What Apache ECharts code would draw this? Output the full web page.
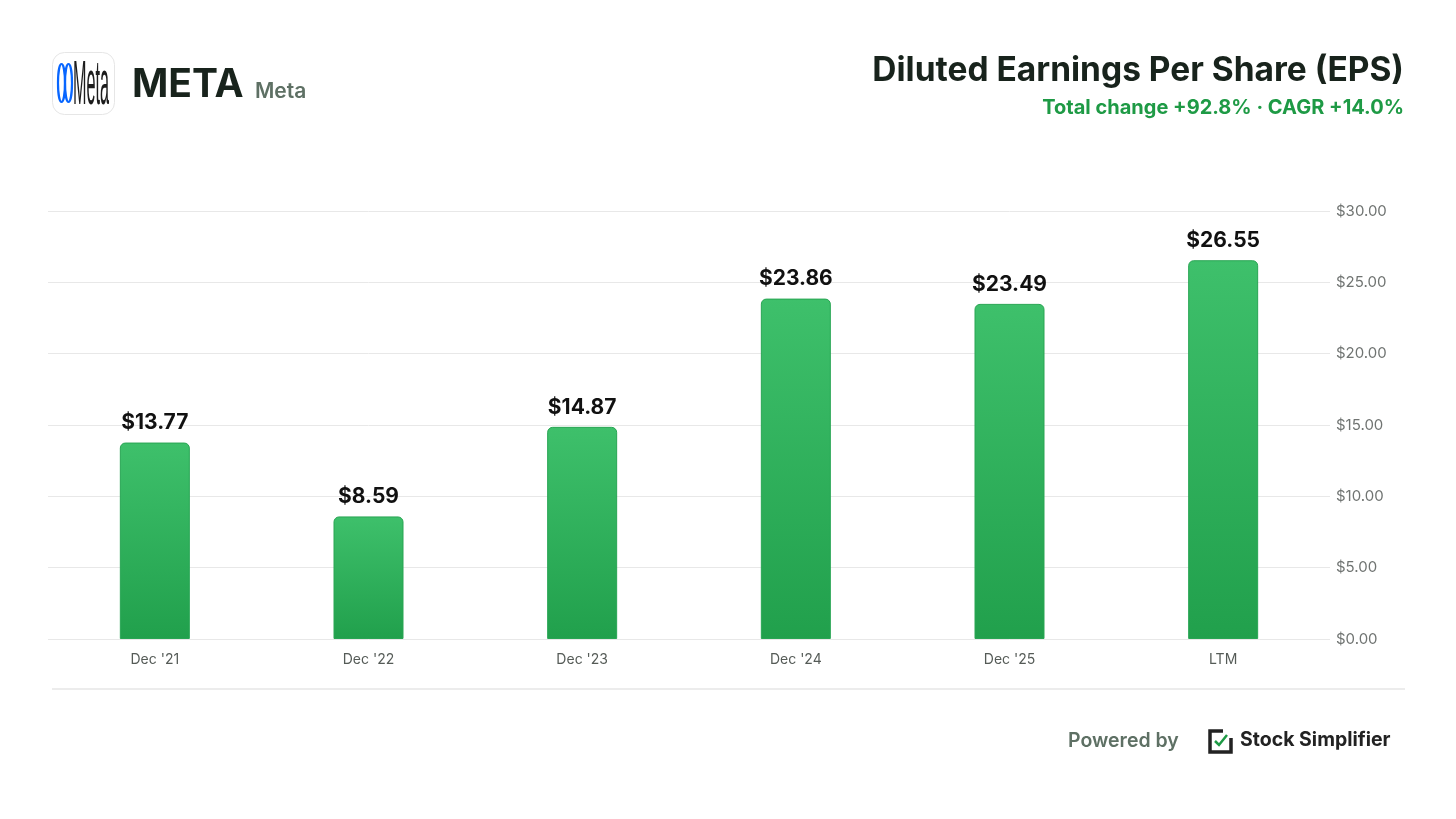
<!DOCTYPE html>
<html>
<head>
<meta charset="utf-8">
<title>META Diluted EPS</title>
<script src="https://cdn.jsdelivr.net/npm/echarts@6/dist/echarts.min.js"></script>
<style>
  html, body { margin: 0; padding: 0; background: #ffffff; }
  #chart { width: 1456px; height: 819px; }
</style>
</head>
<body>
<div id="chart"></div>
<script>
// data
var periods = ["Dec '21", "Dec '22", "Dec '23", "Dec '24", "Dec '25", "LTM"];
var epsValues = [13.77, 8.59, 14.87, 23.86, 23.49, 26.55];
var yTicks = [0, 5, 10, 15, 20, 25, 30];

var ticker = 'META';
var companyName = 'Meta';
var chartTitle = 'Diluted Earnings Per Share (EPS)';
var chartSubtitle = 'Total change +92.8% \u00b7 CAGR +14.0%';

var font = 'Inter, "Noto Sans", sans-serif';

var chart = echarts.init(document.getElementById('chart'), null, { renderer: 'canvas' });

var option = {
    backgroundColor: '#ffffff',
    animation: false,
    grid: { left: 48, right: 126, top: 211, bottom: 180 },
    xAxis: {
        type: 'category',
        data: periods,
        axisLine: { show: false },
        axisTick: { show: false },
        axisLabel: { color: '#555b57', fontSize: 14, fontFamily: font, margin: 14 }
    },
    yAxis: {
        type: 'value',
        position: 'right',
        min: yTicks[0],
        max: yTicks[yTicks.length - 1],
        interval: 5,
        axisLine: { show: false },
        axisTick: { show: false },
        splitLine: { lineStyle: { color: '#e8e8e8', width: 1 } },
        axisLabel: {
            color: '#707472', fontSize: 15, fontFamily: font, margin: 6, padding: [3, 0, 0, 0],
            formatter: function (v) { return '$' + v.toFixed(2); }
        }
    },
    series: [{
        type: 'bar',
        data: epsValues,
        barWidth: 70,
        itemStyle: {
            borderRadius: [5, 5, 0, 0],
            borderColor: '#28a553',
            borderWidth: 1,
            color: new echarts.graphic.LinearGradient(0, 0, 0, 1, [
                { offset: 0, color: '#3ec06b' },
                { offset: 1, color: '#21a04c' }
            ])
        },
        label: {
            show: true,
            position: 'top',
            distance: 9,
            color: '#111111',
            fontSize: 21,
            fontWeight: 'bold',
            fontFamily: font,
            formatter: function (p) { return '$' + p.value.toFixed(2); }
        }
    }],
    graphic: [
        // company logo tile
        { type: 'rect', left: 52, top: 52, shape: { width: 62, height: 62, r: 12 },
          style: { fill: '#ffffff', stroke: '#e6e6e6', lineWidth: 1 } },
        { type: 'ellipse', shape: { cx: 61.5, cy: 83, rx: 3.5, ry: 19 },
          style: { fill: null, stroke: '#0866ff', lineWidth: 2.2 } },
        { type: 'ellipse', shape: { cx: 68.5, cy: 83, rx: 3.5, ry: 19 },
          style: { fill: null, stroke: '#0866ff', lineWidth: 2.2 } },
        { type: 'text', x: 73, y: 55, scaleX: 0.54, scaleY: 2.1,
          style: { x: 0, y: 0, text: 'Meta', fill: '#1c1c1c',
                   font: '30px "Liberation Sans", sans-serif' } },
        { type: 'text', left: 132, top: 66, style: { text: ticker, fill: '#18231c', font: 'bold 39px ' + font } },
        { type: 'text', left: 255, top: 81, style: { text: companyName, fill: '#5e7064', font: '600 21px ' + font } },

        // title block
        { type: 'text', right: 52, top: 54, style: { text: chartTitle, fill: '#18231c', font: 'bold 33.5px ' + font } },
        { type: 'text', right: 52, top: 98, style: { text: chartSubtitle, fill: '#1e9a45', font: 'bold 20px ' + font } },

        // footer
        { type: 'line', shape: { x1: 52, y1: 689, x2: 1405, y2: 689 }, style: { stroke: '#e6e6e6', lineWidth: 1.5 } },
        { type: 'text', left: 1068, top: 731, style: { text: 'Powered by', fill: '#5e7064', font: '600 19.5px ' + font } },
        { type: 'polyline', shape: { points: [[1223, 731], [1210, 731], [1210, 752], [1231, 752], [1231, 738]] },
          style: { stroke: '#222222', lineWidth: 3.5, fill: null } },
        { type: 'polyline', shape: { points: [[1215, 741], [1219, 745], [1227, 735]] },
          style: { stroke: '#1e9a45', lineWidth: 2.5, fill: null } },
        { type: 'text', left: 1240, top: 730, style: { text: 'Stock Simplifier', fill: '#222222', font: 'bold 19.5px ' + font } }
    ]
};

chart.setOption(option);
</script>
</body>
</html>
